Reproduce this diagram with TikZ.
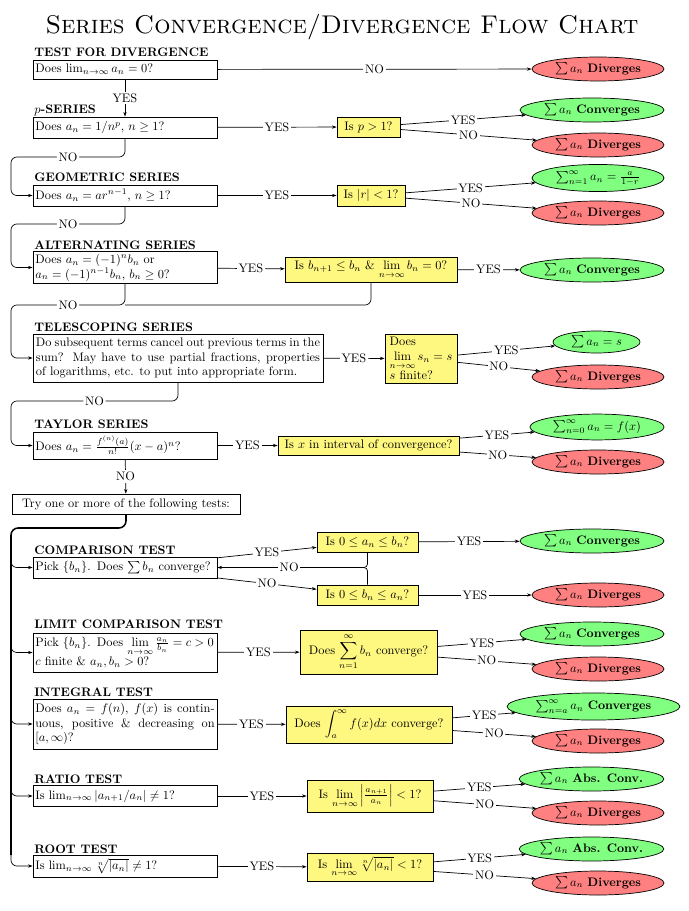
\RequirePackage{fix-cm}
\documentclass[tikz,border=0pt]{standalone}
\usepackage{amsmath,amssymb}
\usepackage{graphicx}
\usetikzlibrary{shapes.geometric,arrows.meta}
\newcommand{\zw}[1]{\makebox[0pt]{#1}}
\begin{document}
\fontsize{10.5pt}{12.6pt}\selectfont
\begin{tikzpicture}[x=0.85pt,y=-0.85pt, line width=0.6pt,
  lbox/.style={draw, inner xsep=2pt, inner ysep=2pt, text width=152.4pt, align=left, minimum height=#1},
  lbox/.default=17.9pt,
  qbox/.style={draw, fill=yellow!50, inner sep=2pt, align=center},
  ell/.style={ellipse, draw, inner sep=0pt},
  redE/.style={ell, fill=red!50, minimum width=112.2pt, minimum height=20.4pt},
  greenE/.style={ell, fill=green!50, minimum width=#1, minimum height=20.4pt},
  greenE/.default=122.4pt,
  hd/.style={anchor=base west, inner sep=0pt, font=\bfseries},
  arr/.style={-{Stealth[length=4pt,width=2.8pt]}},
  lbl/.style={fill=white, inner sep=1.5pt},
  thickline/.style={line width=1.3pt, rounded corners=6pt},
]
\useasboundingbox (0,0) rectangle (688,911);

% title
\node[anchor=base, inner sep=0pt] (title) at (342,34) {\resizebox{504pt}{!}{\textsc{Series Convergence/Divergence Flow Chart}}};

% headings
\node[hd] (h1) at (34,57) {TEST FOR DIVERGENCE};
\node[hd] (h2) at (34,114) {$p$-SERIES};
\node[hd] (h3) at (34,182) {GEOMETRIC SERIES};
\node[hd] (h4) at (34,249) {ALTERNATING SERIES};
\node[hd] (h5) at (34,331) {TELESCOPING SERIES};
\node[hd] (h6) at (34,428) {TAYLOR SERIES};
\node[hd] (h7) at (34,554) {COMPARISON TEST};
\node[hd] (h8) at (34,628) {LIMIT COMPARISON TEST};
\node[hd] (h9) at (34,696) {INTEGRAL TEST};
\node[hd] (h10) at (34,783) {RATIO TEST};
\node[hd] (h11) at (34,853) {ROOT TEST};

% left boxes
\node[lbox=16.2pt] (b1) at (125,69.5) {Does $\lim_{n\to\infty} a_n = 0$?};
\node[lbox] (b2) at (125,127.5) {Does $a_n = 1/n^p$, $n\ge 1$?};
\node[lbox] (b3) at (125,195.5) {Does $a_n = ar^{n-1}$, $n\ge 1$?};
\node[lbox=26.4pt] (b4) at (125,267.5) {Does $a_n=(-1)^n b_n$ or\\ $a_n=(-1)^{n-1}b_n$, $b_n\ge 0$?};
\node[draw, inner xsep=2.5pt, inner ysep=2pt, text width=241.5pt, align=justify, minimum height=40.8pt] (b5) at (178,358)
  {Do subsequent terms cancel out previous terms in the\linebreak sum? May have to use partial fractions, properties\linebreak of logarithms, etc. to put into appropriate form.};
\node[lbox=23pt] (b6) at (125,445.5) {Does $a_n = \frac{f^{(n)}(a)}{n!}(x-a)^n$?};
\node[draw, minimum width=193.8pt, minimum height=17pt] (try) at (126,504) {Try one or more of the following tests:};
\node[lbox] (b7) at (125,567.5) {Pick $\{b_n\}$. Does $\sum b_n$ converge?};
\node[lbox=33.2pt] (b8) at (125,652.5) {Pick $\{b_n\}$. Does $\lim\limits_{n\to\infty}\frac{a_n}{b_n}=c>0$\\ $c$ finite \& $a_n,b_n>0$?};
\node[lbox=42.5pt, align=justify] (b9) at (125,724) {Does $a_n=f(n)$, $f(x)$ is contin-\linebreak uous, positive \& decreasing on\linebreak $[a,\infty)$?};
\node[lbox] (b10) at (125,796) {Is $\lim_{n\to\infty}|a_{n+1}/a_n|\ne 1$?};
\node[lbox=18.7pt] (b11) at (125,866) {Is $\lim_{n\to\infty}\sqrt[n]{|a_n|}\ne 1$?};

% question boxes
\node[qbox, minimum width=53.5pt, minimum height=17pt] (q2) at (368.5,127) {Is $p>1$?};
\node[qbox, minimum width=57.8pt, minimum height=17.9pt] (q3) at (371,195.5) {Is $|r|<1$?};
\node[qbox, minimum width=146.2pt, minimum height=21.3pt] (q4) at (371,269.5) {Is $b_{n+1}\le b_n$ \& $\lim\limits_{n\to\infty} b_n = 0$?};
\node[qbox, align=left, minimum width=61.2pt, minimum height=41.7pt] (q5) at (421,358.5) {Does\\ $\lim\limits_{n\to\infty} s_n = s$\\ $s$ finite?};
\node[qbox, minimum width=153.9pt, minimum height=16.2pt] (q6) at (368.5,445.5) {Is $x$ in interval of convergence?};
\node[qbox, minimum width=85.9pt, minimum height=17pt] (q7a) at (367.5,542) {Is $0\le a_n\le b_n$?};
\node[qbox, minimum width=85.9pt, minimum height=17pt] (q7b) at (367.5,595) {Is $0\le b_n\le a_n$?};
\node[qbox, minimum width=116.5pt, minimum height=37.4pt] (q8) at (368.5,652) {Does $\displaystyle\sum_{n=1}^{\infty} b_n$ converge?};
\node[qbox, minimum width=141.1pt, minimum height=31.5pt] (q9) at (369,724.5) {Does $\displaystyle\int_a^{\infty} f(x)dx$ converge?};
\node[qbox, minimum width=107.1pt, minimum height=27.2pt] (q10) at (370,796) {Is $\lim\limits_{n\to\infty}\left|\frac{a_{n+1}}{a_n}\right|<1$?};
\node[qbox, minimum width=107.1pt, minimum height=23.8pt] (q11) at (370,867) {Is $\lim\limits_{n\to\infty}\sqrt[n]{|a_n|}<1$?};

% result ellipses
\node[redE] (r1) at (598,69) {\zw{$\sum a_n$ \textbf{Diverges}}};
\node[greenE] (g2) at (592,110) {\zw{$\sum a_n$ \textbf{Converges}}};
\node[redE] (r2) at (598,145) {\zw{$\sum a_n$ \textbf{Diverges}}};
\node[greenE=112.2pt, minimum height=23pt] (g3) at (598,178) {\zw{$\sum_{n=1}^{\infty} a_n = \frac{a}{1-r}$}};
\node[redE] (r3) at (598,213) {\zw{$\sum a_n$ \textbf{Diverges}}};
\node[greenE] (g4) at (592,270) {\zw{$\sum a_n$ \textbf{Converges}}};
\node[greenE=74pt, minimum height=18.7pt] (g5) at (596.5,342) {\zw{$\sum a_n = s$}};
\node[redE] (r5) at (598,377) {\zw{$\sum a_n$ \textbf{Diverges}}};
\node[greenE=114pt, minimum height=22pt] (g6) at (597,427) {\zw{$\sum_{n=0}^{\infty} a_n = f(x)$}};
\node[redE] (r6) at (598,462) {\zw{$\sum a_n$ \textbf{Diverges}}};
\node[greenE] (g7) at (592,541) {\zw{$\sum a_n$ \textbf{Converges}}};
\node[redE] (r7) at (598,595) {\zw{$\sum a_n$ \textbf{Diverges}}};
\node[greenE] (g8) at (592,634) {\zw{$\sum a_n$ \textbf{Converges}}};
\node[redE] (r8) at (598,669) {\zw{$\sum a_n$ \textbf{Diverges}}};
\node[greenE=147pt, minimum height=23pt] (g9) at (593.5,706.5) {\zw{$\sum_{n=a}^{\infty} a_n$ \textbf{Converges}}};
\node[redE] (r9) at (598,741) {\zw{$\sum a_n$ \textbf{Diverges}}};
\node[greenE=123pt] (g10) at (591.5,779) {\zw{$\sum a_n$ \textbf{Abs. Conv.}}};
\node[redE] (r10) at (598,813) {\zw{$\sum a_n$ \textbf{Diverges}}};
\node[greenE=123pt] (g11) at (591.5,849) {\zw{$\sum a_n$ \textbf{Abs. Conv.}}};
\node[redE] (r11) at (598,883) {\zw{$\sum a_n$ \textbf{Diverges}}};

% divergence test
\draw[arr] (b1) -- node[lbl]{NO} (r1);
\draw[arr] (b1) -- node[lbl]{YES} (b2);
% p-series
\draw[arr] (b2) -- node[lbl]{YES} (q2);
\draw[arr] (q2) -- node[lbl]{YES} (g2);
\draw[arr] (q2) -- node[lbl]{NO} (r2);
\draw[arr, rounded corners=5pt] (b2.south) |- node[lbl,pos=0.75]{NO} (11,157) |- (b3.west);
% geometric
\draw[arr] (b3) -- node[lbl]{YES} (q3);
\draw[arr] (q3) -- node[lbl]{YES} (g3);
\draw[arr] (q3) -- node[lbl]{NO} (r3);
\draw[arr, rounded corners=5pt] (b3.south) |- node[lbl,pos=0.75]{NO} (11,224) |- (b4.west);
% alternating
\draw[arr] (b4) -- node[lbl]{YES} (q4);
\draw[arr] (q4) -- node[lbl]{YES} (g4);
\coordinate (j4) at (125,305);
\draw[arr, rounded corners=5pt] (b4.south) |- node[lbl,pos=0.75]{NO} (11,305) |- (b5.west);
\draw[rounded corners=5pt] (q4.south) |- (j4);
% telescoping
\draw[arr] (b5) -- node[lbl]{YES} (q5);
\draw[arr] (q5) -- node[lbl]{YES} (g5);
\draw[arr] (q5) -- node[lbl]{NO} (r5);
\draw[arr, rounded corners=5pt] (b5.south) |- node[lbl,pos=0.75]{NO} (11,401) |- (b6.west);
% taylor
\draw[arr] (b6) -- node[lbl]{YES} (q6);
\draw[arr] (q6) -- node[lbl]{YES} (g6);
\draw[arr] (q6) -- node[lbl]{NO} (r6);
\draw[arr] (b6) -- node[lbl]{NO} (try);
% trunk
\coordinate (t0) at (11,855);
\draw[thickline] (try.south) |- (11,528) -- (t0);
\coordinate (j7) at (11,555);
\coordinate (j8) at (11,640);
\coordinate (j9) at (11,711);
\coordinate (j10) at (11,784);
\coordinate (j11) at (11,853);
\draw[arr, rounded corners=5pt] (j7) |- (b7.west);
\draw[arr, rounded corners=5pt] (j8) |- (b8.west);
\draw[arr, rounded corners=5pt] (j9) |- (b9.west);
\draw[arr, rounded corners=5pt] (j10) |- (b10.west);
\draw[arr, rounded corners=5pt] (j11) |- (b11.west);
% comparison
\draw[arr] (b7) -- node[lbl]{YES} (q7a);
\draw[arr] (b7) -- node[lbl]{NO} (q7b);
\draw[arr] (q7a) -- node[lbl]{YES} (g7);
\draw[arr] (q7b) -- node[lbl]{YES} (r7);
\coordinate (nj) at (361,567.5);
\draw[rounded corners=3pt] (q7a.south) |- (nj);
\draw[rounded corners=3pt] (q7b.north) |- (nj);
\draw[arr] (nj) -- node[lbl]{NO} (b7.east);
% limit comparison
\draw[arr] (b8) -- node[lbl]{YES} (q8);
\draw[arr] (q8) -- node[lbl]{YES} (g8);
\draw[arr] (q8) -- node[lbl]{NO} (r8);
% integral
\draw[arr] (b9) -- node[lbl]{YES} (q9);
\draw[arr] (q9) -- node[lbl]{YES} (g9);
\draw[arr] (q9) -- node[lbl]{NO} (r9);
% ratio
\draw[arr] (b10) -- node[lbl]{YES} (q10);
\draw[arr] (q10) -- node[lbl]{YES} (g10);
\draw[arr] (q10) -- node[lbl]{NO} (r10);
% root
\draw[arr] (b11) -- node[lbl]{YES} (q11);
\draw[arr] (q11) -- node[lbl]{YES} (g11);
\draw[arr] (q11) -- node[lbl]{NO} (r11);
\end{tikzpicture}
\end{document}
